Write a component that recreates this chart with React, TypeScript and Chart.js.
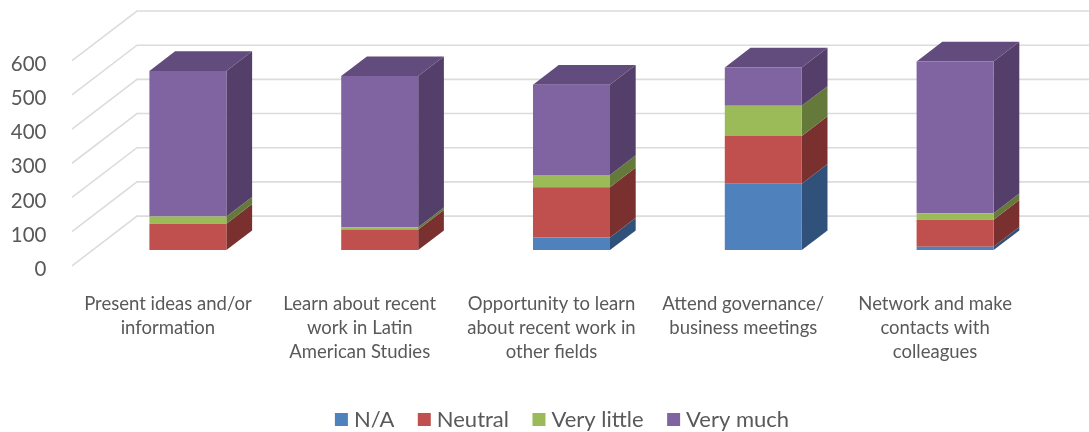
import React, { useEffect, useRef } from "react";
import { Chart, registerables } from "chart.js";

Chart.register(...registerables);

const categories = [
  ["Present ideas and/or", "information"],
  ["Learn about recent", "work in Latin", "American Studies"],
  ["Opportunity to learn", "about recent work in", "other fields"],
  ["Attend governance/", "business meetings"],
  ["Network and make", "contacts with", "colleagues"],
];
const naValues = [0, 0, 37, 194, 10];
const neutralValues = [77, 60, 147, 140, 79];
const veryLittleValues = [21, 7, 36, 88, 19];
const veryMuchValues = [426, 442, 264, 112, 444];

const FRONT = ["#4f81bd", "#c0504d", "#9bbb59", "#8064a2"];
const SIDE = ["#30527a", "#7a302e", "#657a3a", "#533f6a"];
const TOP = "#624b7d";
const GRID = "#dcdcdc";
const TEXT = "#595959";
const FONT = "Lato";

const FLOOR_DX = 65, FLOOR_DY = 49.7;
const BAR_SHIFT_X = 20, BAR_SHIFT_Y = 15.7;
const BAR_DX = 25.7, BAR_DY = 19.7;
const LEGEND_SHIFT = 49;

const poly = (ctx: CanvasRenderingContext2D, pts: number[][], color: string) => {
  ctx.fillStyle = color;
  ctx.beginPath();
  pts.forEach(([x, y], i) => (i ? ctx.lineTo(x, y) : ctx.moveTo(x, y)));
  ctx.closePath();
  ctx.fill();
};

const threeD = {
  id: "threeD",
  afterLayout(chart: any) {
    chart.legend.left += LEGEND_SHIFT;
    chart.legend.right += LEGEND_SHIFT;
  },
  beforeDatasetsDraw(chart: any) {
    const { ctx, scales, chartArea } = chart;
    ctx.save();
    ctx.strokeStyle = GRID;
    ctx.lineWidth = 1.6;
    scales.y.ticks.forEach((t: any) => {
      const y = scales.y.getPixelForValue(t.value);
      ctx.beginPath();
      ctx.moveTo(chartArea.left, y);
      ctx.lineTo(chartArea.left + FLOOR_DX, y - FLOOR_DY);
      ctx.lineTo(chartArea.right + FLOOR_DX, y - FLOOR_DY);
      ctx.stroke();
    });
    ctx.restore();

    ctx.save();
    ctx.translate(BAR_SHIFT_X, -BAR_SHIFT_Y);
    chart.data.datasets.forEach((_: any, di: number) => {
      chart.getDatasetMeta(di).data.forEach((bar: any) => {
        const p = bar.getProps(["x", "y", "base", "width"], true);
        const r = p.x + p.width / 2;
        const l = p.x - p.width / 2;
        if (Math.abs(p.base - p.y) > 0.01) {
          poly(ctx, [[r, p.y], [r + BAR_DX, p.y - BAR_DY], [r + BAR_DX, p.base - BAR_DY], [r, p.base]], SIDE[di]);
        }
        if (di === chart.data.datasets.length - 1) {
          poly(ctx, [[l, p.y], [l + BAR_DX, p.y - BAR_DY], [r + BAR_DX, p.y - BAR_DY], [r, p.y]], TOP);
        }
      });
    });
  },
  afterDatasetsDraw(chart: any) {
    chart.ctx.restore();
  },
};

export default function App() {
  const ref = useRef<HTMLCanvasElement>(null);
  useEffect(() => {
    const chart = new Chart(ref.current!, {
      type: "bar",
      data: {
        labels: categories as any,
        datasets: [
          { label: "N/A", data: naValues, backgroundColor: FRONT[0] },
          { label: "Neutral", data: neutralValues, backgroundColor: FRONT[1] },
          { label: "Very little", data: veryLittleValues, backgroundColor: FRONT[2] },
          { label: "Very much", data: veryMuchValues, backgroundColor: FRONT[3] },
        ].map((d) => ({ ...d, barPercentage: 0.4015, categoryPercentage: 1, clip: false as any })),
      },
      options: {
        responsive: false,
        animation: false,
        layout: { autoPadding: false, padding: { left: 0, right: 58, top: 60.7, bottom: -8.5 } },
        plugins: {
          tooltip: { enabled: false },
          legend: {
            position: "bottom",
            labels: {
              usePointStyle: true,
              pointStyle: "rect",
              boxWidth: 3,
              boxHeight: 13,
              padding: 28.5,
              color: TEXT,
              font: { family: FONT, size: 22 },
            },
          },
        },
        scales: {
          x: {
            stacked: true,
            grid: { display: false },
            border: { display: false },
            afterFit: (s: any) => { s.height = 114.2; },
            ticks: {
              autoSkip: false,
              maxRotation: 0,
              minRotation: 0,
              padding: 18.5,
              color: TEXT,
              font: { family: FONT, size: 18.5, lineHeight: 1.29 },
            },
          },
          y: {
            stacked: true,
            min: 0,
            max: 600,
            grid: { display: false },
            border: { display: false },
            afterFit: (s: any) => { s.width = 72; },
            ticks: {
              stepSize: 100,
              padding: 17.5,
              labelOffset: 3.5,
              color: TEXT,
              font: { family: FONT, size: 20.5 },
            },
          },
        },
      },
      plugins: [threeD],
    } as any);
    return () => chart.destroy();
  }, []);
  return (
    <div style={{ position: "absolute", left: 0, top: 0, width: 1089, height: 432, background: "#fff" }}>
      <canvas ref={ref} width={1089} height={432} style={{ display: "block", filter: "blur(0.6px)" }} />
    </div>
  );
}
